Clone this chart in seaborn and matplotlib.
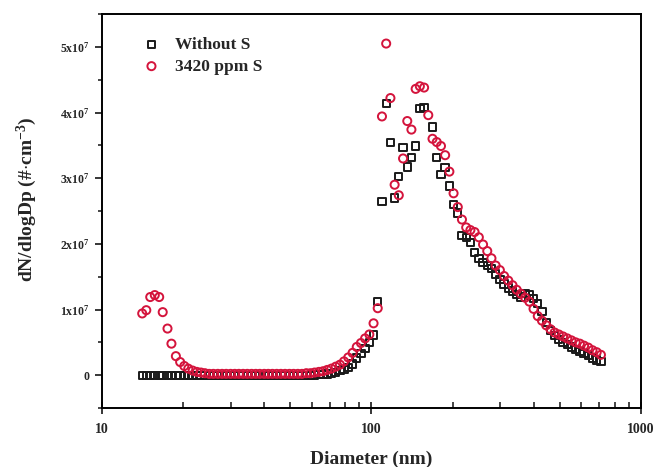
import numpy as np
import pandas as pd
import seaborn as sns
import matplotlib.pyplot as plt
from matplotlib import ticker

sns.set_theme(style="ticks")
plt.rcParams['font.family'] = ['Liberation Serif', 'DejaVu Serif']
plt.rcParams['font.weight'] = 'bold'
plt.rcParams['mathtext.fontset'] = 'custom'
plt.rcParams['mathtext.rm'] = 'Liberation Serif:bold'
plt.rcParams['mathtext.it'] = 'Liberation Serif:bold'
plt.rcParams['mathtext.bf'] = 'Liberation Serif:bold'

## data - SMPS channel mid diameters (nm), dN/dlogDp in units of 1e7 #/cm3
diameter = [
    14.1, 14.6, 15.1, 15.7, 16.3, 16.8, 17.5, 18.1, 18.8, 19.5,
    20.2, 20.9, 21.7, 22.5, 23.3, 24.1, 25.0, 25.9, 26.9, 27.9,
    28.9, 30.0, 31.1, 32.2, 33.4, 34.6, 35.9, 37.2, 38.5, 40.0,
    41.4, 42.9, 44.5, 46.1, 47.8, 49.6, 51.4, 53.3, 55.2, 57.3,
    59.4, 61.5, 63.8, 66.1, 68.5, 71.0, 73.7, 76.4, 79.1, 82.0,
    85.1, 88.2, 91.4, 94.7, 98.2, 101.8, 105.5, 109.4, 113.4, 117.6,
    121.9, 126.3, 131.0, 135.8, 140.7, 145.9, 151.2, 156.8, 162.5, 168.5,
    174.7, 181.1, 187.7, 194.6, 201.7, 209.1, 216.7, 224.7, 232.9, 241.4,
    250.3, 259.5, 269.0, 278.8, 289.0, 299.6, 310.6, 322.0, 333.8, 346.0,
    358.7, 371.8, 385.4, 399.5, 414.2, 429.4, 445.1, 461.4, 478.3, 495.8,
    514.0, 532.8, 552.3, 572.5, 593.5, 615.3, 637.8, 661.2, 685.4, 710.5,
]

without_s = [
    0.00, 0.00, 0.00, 0.00, 0.00, 0.00, 0.00, 0.00, 0.00, 0.00,
    0.00, 0.00, 0.00, 0.00, 0.00, 0.00, 0.00, 0.00, 0.00, 0.00,
    0.00, 0.00, 0.00, 0.00, 0.00, 0.00, 0.00, 0.00, 0.00, 0.00,
    0.00, 0.00, 0.00, 0.00, 0.00, 0.00, 0.00, 0.00, 0.00, 0.00,
    0.00, 0.005, 0.01, 0.01, 0.02, 0.03, 0.04, 0.07, 0.09, 0.12,
    0.17, 0.26, 0.33, 0.41, 0.50, 0.61, 1.12, 2.64, 4.14, 3.54,
    2.70, 3.03, 3.47, 3.17, 3.31, 3.49, 4.06, 4.08, np.nan, 3.78,
    3.31, 3.06, 3.16, 2.88, 2.60, 2.47, 2.13, 2.10, 2.02, 1.87,
    1.78, 1.72, 1.67, 1.62, 1.54, 1.46, 1.39, 1.33, 1.28, 1.23,
    1.19, 1.24, 1.22, 1.17, 1.09, 0.97, 0.80, 0.68, 0.60, 0.54,
    0.50, 0.47, 0.43, 0.39, 0.36, 0.33, 0.30, 0.26, 0.23, 0.21,
]

with_s = [
    0.94, 0.99, 1.19, 1.22, 1.19, 0.96, 0.71, 0.48, 0.29, 0.20,
    0.14, 0.10, 0.07, 0.05, 0.04, 0.03, 0.02, 0.02, 0.02, 0.02,
    0.02, 0.02, 0.02, 0.02, 0.02, 0.02, 0.02, 0.02, 0.02, 0.02,
    0.02, 0.02, 0.02, 0.02, 0.02, 0.02, 0.02, 0.02, 0.02, 0.03,
    0.03, 0.04, 0.05, 0.06, 0.08, 0.10, 0.13, 0.16, 0.21, 0.27,
    0.34, 0.43, 0.49, 0.56, 0.62, 0.79, 1.02, 3.94, 5.05, 4.22,
    2.90, 2.74, 3.30, 3.87, 3.74, 4.36, 4.40, 4.38, 3.96, 3.60,
    3.55, 3.49, 3.35, 3.10, 2.77, 2.56, 2.37, 2.25, 2.21, 2.18,
    2.10, 1.99, 1.89, 1.78, 1.67, 1.60, 1.51, 1.44, 1.37, 1.30,
    1.24, 1.18, 1.12, 1.01, 0.90, 0.83, 0.76, 0.70, 0.65, 0.62,
    0.59, 0.56, 0.53, 0.50, 0.48, 0.45, 0.42, 0.38, 0.35, 0.31,
]

labels = ['Without S', '3420 ppm S']
colors = ['#1a1a1a', '#d4143c']
markers = ['s', 'o']
sizes = [28, 34]

df = pd.DataFrame({
    'Diameter': diameter * 2,
    'dN': np.array(without_s + with_s) * 1e7,
    'series': [labels[0]] * len(diameter) + [labels[1]] * len(diameter),
})

fig = plt.figure(figsize=(6.56, 4.67), dpi=100)
ax = fig.add_axes([0.1555, 0.1263, 0.8215, 0.8437])

for lab, col, mk, sz in zip(labels, colors, markers, sizes):
    sub = df[df['series'] == lab]
    sns.scatterplot(data=sub, x='Diameter', y='dN', ax=ax, marker=mk, s=sz,
                    facecolor='none', edgecolor=col, linewidth=1.4, label=lab)

ax.set_xscale('log')
ax.set_xlim(10, 1000)
ax.set_ylim(-0.5e7, 5.5e7)

ax.xaxis.set_major_locator(ticker.LogLocator(base=10))
ax.xaxis.set_minor_locator(ticker.LogLocator(base=10, subs=np.arange(2, 10)))
ax.xaxis.set_major_formatter(ticker.FuncFormatter(lambda v, p: f'{int(round(v))}'))
ax.xaxis.set_minor_formatter(ticker.NullFormatter())

ax.yaxis.set_major_locator(ticker.MultipleLocator(1e7))
ax.yaxis.set_minor_locator(ticker.MultipleLocator(0.5e7))


def yfmt(v, pos):
    n = int(round(v / 1e7))
    if n == 0:
        return '0'
    return f'{n}x10$^{{7}}$'


ax.yaxis.set_major_formatter(ticker.FuncFormatter(yfmt))

ax.tick_params(axis='x', which='major', direction='inout', length=8, width=1.3, labelsize=10, pad=7)
ax.tick_params(axis='x', which='minor', direction='in', length=4, width=1.2)
ax.tick_params(axis='y', which='major', direction='out', length=5, width=1.3, labelsize=8.5, pad=4)
ax.tick_params(axis='y', which='minor', direction='out', length=3, width=1.2)
for lab in ax.get_xticklabels() + ax.get_yticklabels():
    lab.set_fontweight('bold')

for sp in ax.spines.values():
    sp.set_linewidth(1.4)
    sp.set_color('black')

ax.set_xlabel('Diameter (nm)', fontsize=14, fontweight='bold')
ax.set_ylabel('dN/dlogDp (#$\\cdot$cm$^{-3}$)', fontsize=14, fontweight='bold')
ax.xaxis.set_label_coords(0.499, -0.108)
ax.yaxis.set_label_coords(-0.116, 0.53)

ax.legend(loc='upper left', bbox_to_anchor=(0.037, 0.972), frameon=False,
          prop={'weight': 'bold', 'size': 12.5}, handletextpad=0.35,
          labelspacing=0.3, borderaxespad=0.3)

fig.savefig('out.png', dpi=100)
